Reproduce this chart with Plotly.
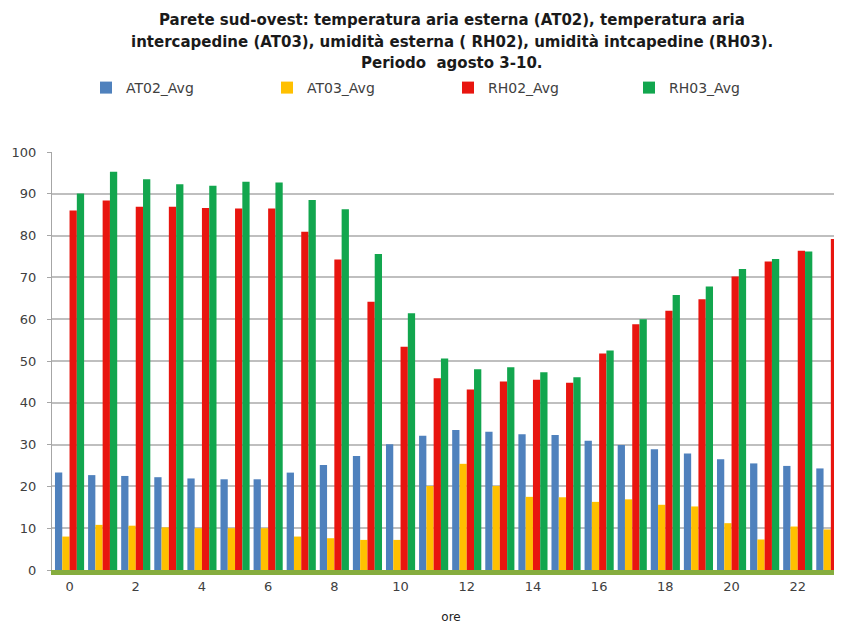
import plotly.graph_objects as go

hours = list(range(24))
at02 = [23.3, 22.7, 22.5, 22.2, 21.9, 21.7, 21.7, 23.3, 25.1, 27.3, 30.1, 32.1,
        33.5, 33.1, 32.5, 32.3, 30.9, 29.9, 28.9, 27.9, 26.5, 25.5, 24.9, 24.3]
at03 = [8.0, 10.8, 10.6, 10.2, 10.0, 10.0, 10.0, 8.0, 7.6, 7.2, 7.2, 20.1,
        25.4, 20.1, 17.5, 17.4, 16.3, 16.9, 15.6, 15.2, 11.2, 7.3, 10.4, 9.7]
rh02 = [86.0, 88.4, 86.9, 86.9, 86.6, 86.5, 86.5, 80.9, 74.3, 64.2, 53.4, 45.9,
        43.2, 45.1, 45.5, 44.8, 51.8, 58.8, 62.0, 64.8, 70.2, 73.8, 76.4, 79.2]
rh03 = [90.1, 95.3, 93.5, 92.3, 91.9, 92.9, 92.7, 88.5, 86.3, 75.6, 61.4, 50.6,
        48.0, 48.5, 47.3, 46.1, 52.5, 60.0, 65.8, 67.8, 72.0, 74.4, 76.2, 79.0]

series_names = ["AT02_Avg", "AT03_Avg", "RH02_Avg", "RH03_Avg"]
series_values = [at02, at03, rh02, rh03]
colors = ["#4F81BD", "#FFC000", "#E8150F", "#12A64E"]

title_lines = [
    "Parete sud-ovest: temperatura aria esterna (AT02), temperatura aria",
    "intercapedine (AT03), umidità esterna ( RH02), umidità intcapedine (RH03).",
    "Periodo  agosto 3-10.",
]

# The page body adds an 8 px offset, so the figure is laid out in shifted coordinates.
OFF = 8
W, H = 842, 624 - OFF
L, T = 52 - OFF, 152 - OFF
B = H - (570 - OFF)
PW, PH = W - L, H - T - B
PITCH = 33.1  # pixels per hour category in the reference
X0 = -0.53


def px_x(xw):
    return (xw - OFF - L) / PW


def px_y(yw):
    return (H - B - (yw - OFF)) / PH


title_y_px = [20, 42, 63]

fig = go.Figure()
for name, vals, col in zip(series_names, series_values, colors):
    fig.add_trace(go.Bar(x=hours, y=vals, name=name, marker=dict(color=col, line=dict(width=0))))

annotations = []
for line, ypx in zip(title_lines, title_y_px):
    annotations.append(dict(
        text="<b>%s</b>" % line, xref="paper", yref="paper",
        x=px_x(452), y=px_y(ypx),
        xanchor="center", yanchor="middle", showarrow=False,
        font=dict(family="DejaVu Sans", size=15, color="#1a1a1a"),
    ))

fig.update_layout(
    width=W, height=H,
    paper_bgcolor="white", plot_bgcolor="white",
    barmode="group", bargap=0.12, bargroupgap=0.0,
    margin=dict(l=L, r=0, t=T, b=B, autoexpand=False),
    font=dict(family="DejaVu Sans", size=14, color="#404040"),
    annotations=annotations,
    legend=dict(orientation="h", x=px_x(86), xanchor="left",
                y=px_y(88), yanchor="middle",
                entrywidth=136, entrywidthmode="pixels",
                font=dict(family="DejaVu Sans", size=14, color="#404040"),
                itemwidth=30, traceorder="normal", bgcolor="rgba(0,0,0,0)"),
    showlegend=True,
)

fig.update_xaxes(
    range=[X0, X0 + PW / PITCH], tickmode="linear", tick0=0, dtick=2,
    showgrid=False, showline=True, linecolor="#86AD3E", linewidth=5,
    ticks="", tickfont=dict(family="DejaVu Sans", size=13, color="#404040"), automargin=False,
    title=dict(text="ore", font=dict(family="DejaVu Sans", size=12, color="#222222"), standoff=25),
    zeroline=False,
)
fig.update_yaxes(
    range=[0, 100], dtick=10, showgrid=True, gridcolor="#BFBFBF", gridwidth=1.5,
    showline=True, linecolor="#A6A6A6", linewidth=1, ticks="outside", ticklen=4,
    tickcolor="#A6A6A6", tickfont=dict(family="DejaVu Sans", size=13, color="#404040"),
    ticklabelstandoff=8, zeroline=False, automargin=False,
)

fig.write_html("out.html")
